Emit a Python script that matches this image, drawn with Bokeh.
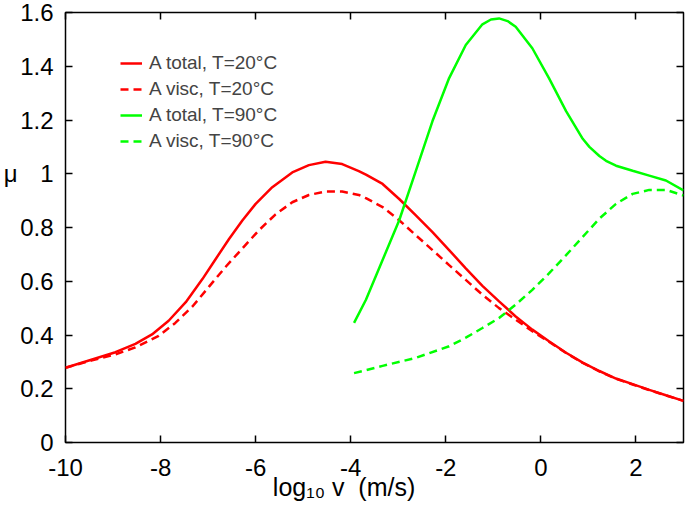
from bokeh.plotting import figure
from bokeh.models import Range1d, LinearAxis, FixedTicker, Legend, LegendItem
from bokeh.embed import file_html
from bokeh.resources import INLINE

# ---- data ----
red_total_x = [-10, -9.44, -8.95, -8.53, -8.18, -7.83, -7.47, -7.12, -6.84, -6.56, -6.28, -6.00,
               -5.65, -5.23, -4.88, -4.53, -4.18, -3.83, -3.68, -3.33, -2.98, -2.63, -2.28, -1.93,
               -1.58, -1.23, -0.88, -0.53, -0.18, 0.17, 0.53, 0.88, 1.23, 1.58, 1.93, 2.28,
               2.63, 3.0]
red_total_y = [0.278, 0.309, 0.336, 0.367, 0.402, 0.453, 0.522, 0.608, 0.683, 0.757, 0.826, 0.888,
               0.950, 1.005, 1.032, 1.045, 1.036, 1.010, 0.997, 0.962, 0.906, 0.845, 0.783, 0.716,
               0.648, 0.583, 0.525, 0.469, 0.420, 0.377, 0.334, 0.297, 0.266, 0.238, 0.217, 0.196,
               0.176, 0.155]

red_visc_x = [-10, -9.44, -8.95, -8.53, -8.04, -7.69, -7.33, -6.98, -6.63, -6.28, -5.93, -5.58,
              -5.23, -4.88, -4.53, -4.18, -3.83, -3.68, -3.33, -2.98, -2.63, -2.28, -1.93, -1.58,
              -1.23, -0.88, -0.53, -0.18, 0.17, 0.53, 0.88, 1.23, 1.58, 1.93, 2.28, 2.63, 3.0]
red_visc_y = [0.278, 0.306, 0.328, 0.354, 0.397, 0.445, 0.506, 0.580, 0.654, 0.722, 0.790, 0.849,
              0.894, 0.921, 0.934, 0.934, 0.921, 0.909, 0.876, 0.827, 0.771, 0.716, 0.660, 0.605,
              0.550, 0.500, 0.457, 0.414, 0.375, 0.333, 0.296, 0.265, 0.237, 0.216, 0.195, 0.175,
              0.155]

green_total_x = [-3.93, -3.68, -3.33, -2.98, -2.63, -2.28, -1.93, -1.58, -1.23, -1.05, -0.88,
                 -0.70, -0.53, -0.18, 0.17, 0.53, 0.88, 1.02, 1.23, 1.37, 1.58, 1.93, 2.28,
                 2.63, 3.0]
green_total_y = [0.445, 0.531, 0.679, 0.827, 1.011, 1.196, 1.356, 1.479, 1.556, 1.574, 1.578,
                 1.568, 1.547, 1.467, 1.356, 1.233, 1.130, 1.100, 1.066, 1.048, 1.030, 1.011,
                 0.993, 0.975, 0.938]

green_visc_x = [-3.93, -3.33, -2.63, -1.93, -1.58, -1.23, -0.88, -0.53, -0.18, 0.17, 0.53, 0.88,
                1.23, 1.58, 1.93, 2.28, 2.63, 3.0]
green_visc_y = [0.258, 0.285, 0.315, 0.358, 0.390, 0.426, 0.463, 0.513, 0.568, 0.629, 0.697,
                0.765, 0.833, 0.888, 0.925, 0.940, 0.940, 0.919]

x_ticks = [-10, -8, -6, -4, -2, 0, 2]
x_tick_labels = ["-10", "-8", "-6", "-4", "-2", "0", "2"]
y_ticks = [0, 0.2, 0.4, 0.6, 0.8, 1.0, 1.2, 1.4, 1.6]
y_tick_labels = ["0", "0.2", "0.4", "0.6", "0.8", "1", "1.2", "1.4", "1.6"]

x_title = "log\u2081\u2080 v\u00a0\u00a0(m/s)"
x_title_pos = -4.14
y_title = "\u03bc"
y_title_pos = 1.0

legend_labels = ["A total, T=20°C", "A visc, T=20°C", "A total, T=90°C", "A visc, T=90°C"]

FONT = "Liberation Sans"
RED = "#ff0000"
GREEN = "#00ff00"

p = figure(width=685, height=517, x_range=Range1d(-10, 3), y_range=Range1d(0, 1.6),
           output_backend="svg", toolbar_location=None,
           min_border_left=65, min_border_right=2, min_border_top=12, min_border_bottom=75)

p.grid.visible = False
p.outline_line_color = "black"
p.outline_line_width = 1.5
p.background_fill_color = "white"


def style_axis(ax, ticks, labels, show):
    ax.ticker = FixedTicker(ticks=ticks)
    ax.major_label_overrides = {t: l for t, l in zip(ticks, labels)}
    ax.major_tick_in = 7
    ax.major_tick_out = 0
    ax.minor_tick_line_color = None
    ax.major_tick_line_width = 1.5
    ax.axis_line_color = None
    if show:
        ax.major_label_text_font = FONT
        ax.major_label_text_font_size = "24px"
        ax.major_label_text_color = "black"
    else:
        ax.major_label_text_font_size = "0px"
        ax.major_label_standoff = 0


style_axis(p.xaxis[0], x_ticks, x_tick_labels, True)
p.xaxis[0].major_label_standoff = 16
style_axis(p.yaxis[0], y_ticks, y_tick_labels, True)
p.yaxis[0].major_label_standoff = 12

top_ax = LinearAxis()
style_axis(top_ax, x_ticks, x_tick_labels, False)
p.add_layout(top_ax, "above")
right_ax = LinearAxis()
style_axis(right_ax, y_ticks, y_tick_labels, False)
p.add_layout(right_ax, "right")

# axis titles placed as single labelled ticks of outer axes
mu_ax = LinearAxis()
mu_ax.ticker = FixedTicker(ticks=[y_title_pos])
mu_ax.major_label_overrides = {y_title_pos: y_title}
mu_ax.major_tick_line_color = None
mu_ax.minor_tick_line_color = None
mu_ax.axis_line_color = None
mu_ax.major_tick_in = 0
mu_ax.major_tick_out = 0
mu_ax.major_label_standoff = 0
mu_ax.major_label_text_font = FONT
mu_ax.major_label_text_font_size = "24px"
mu_ax.major_label_text_color = "black"
p.add_layout(mu_ax, "left")

xt_ax = LinearAxis()
xt_ax.ticker = FixedTicker(ticks=[x_title_pos])
xt_ax.major_label_overrides = {x_title_pos: x_title}
xt_ax.major_tick_line_color = None
xt_ax.minor_tick_line_color = None
xt_ax.axis_line_color = None
xt_ax.major_tick_in = 0
xt_ax.major_tick_out = 0
xt_ax.major_label_standoff = -6
xt_ax.major_label_text_font = FONT
xt_ax.major_label_text_font_size = "25px"
xt_ax.major_label_text_color = "black"
p.add_layout(xt_ax, "below")

r1 = p.line(red_total_x, red_total_y, line_color=RED, line_width=2.5)
r2 = p.line(red_visc_x, red_visc_y, line_color=RED, line_width=2.5, line_dash="8 5")
r3 = p.line(green_total_x, green_total_y, line_color=GREEN, line_width=2.5)
r4 = p.line(green_visc_x, green_visc_y, line_color=GREEN, line_width=2.5, line_dash="8 5")

legend = Legend(items=[LegendItem(label=l, renderers=[r]) for l, r in
                       zip(legend_labels, [r1, r2, r3, r4])],
                location=(55, 290))
legend.border_line_color = None
legend.background_fill_alpha = 0
legend.padding = 0
legend.margin = 0
legend.spacing = 4
legend.label_height = 22
legend.glyph_height = 22
legend.glyph_width = 22
legend.label_standoff = 7
legend.label_text_font = FONT
legend.label_text_font_size = "19px"
p.add_layout(legend, "center")

open("out.html", "w").write(file_html(p, INLINE))
